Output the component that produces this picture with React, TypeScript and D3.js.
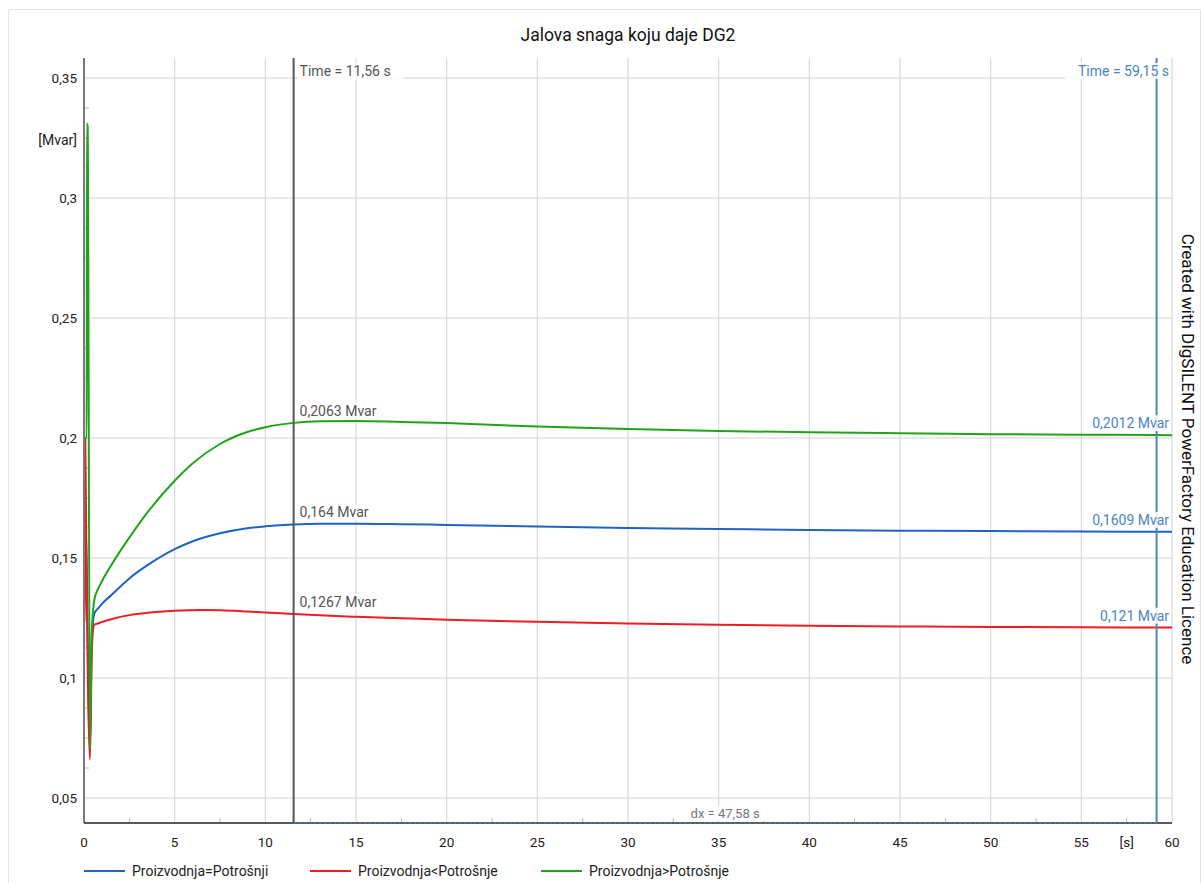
import React from "react";
import * as d3 from "d3";

// ---------- data ----------
const seriesNames = ["Proizvodnja=Potrošnji", "Proizvodnja<Potrošnje", "Proizvodnja>Potrošnje"];
const seriesColors = ["#1f63c4", "#ee1c24", "#22a41a"];

const blueT = [0, 0.12, 0.2, 0.33, 0.42, 0.5, 0.58, 0.8, 1, 1.5, 2.5, 3.5, 5, 6, 7.5, 9, 10, 11.56, 13, 15, 17.5, 20, 25, 30, 35, 40, 45, 50, 55, 59.15, 60];
const blueV = [0.1596, 0.1596, 0.12, 0.071, 0.112, 0.1235, 0.127, 0.1292, 0.131, 0.1345, 0.1415, 0.147, 0.1537, 0.157, 0.1603, 0.1624, 0.1632, 0.164, 0.1643, 0.1643, 0.1641, 0.1638, 0.1631, 0.1625, 0.1621, 0.1617, 0.1614, 0.1612, 0.161, 0.1609, 0.1609];

const redT = [0, 0.06, 0.07, 0.12, 0.33, 0.42, 0.5, 0.58, 0.8, 1, 1.5, 2.5, 3.5, 5, 6.5, 7.5, 9, 10, 11.56, 13, 15, 17.5, 20, 25, 30, 35, 40, 45, 50, 55, 59.15, 60];
const redV = [0.1233, 0.1233, 0.2, 0.16, 0.066, 0.108, 0.12, 0.1223, 0.1228, 0.1234, 0.1245, 0.1262, 0.1272, 0.128, 0.1283, 0.1282, 0.1277, 0.1273, 0.1267, 0.1261, 0.1255, 0.1249, 0.1243, 0.1234, 0.1227, 0.1222, 0.1218, 0.1215, 0.1213, 0.1211, 0.121, 0.121];

const greenT = [0, 0.15, 0.16, 0.2, 0.33, 0.42, 0.5, 0.58, 0.8, 1, 1.5, 2.5, 3.5, 5, 6, 7.5, 9, 10, 11.56, 13, 15, 17.5, 20, 25, 30, 35, 40, 45, 50, 55, 59.15, 60];
const greenV = [0.2, 0.2, 0.331, 0.33, 0.0705, 0.117, 0.128, 0.133, 0.1375, 0.1405, 0.147, 0.1585, 0.169, 0.1822, 0.1895, 0.1975, 0.2025, 0.2045, 0.2063, 0.207, 0.2071, 0.2067, 0.2062, 0.2048, 0.2037, 0.2029, 0.2024, 0.202, 0.2016, 0.2014, 0.2012, 0.2011];

const xTicks = [0, 5, 10, 15, 20, 25, 30, 35, 40, 45, 50, 55, 60];
const xMinorTicks = [2.5, 7.5, 12.5, 17.5, 22.5, 27.5, 32.5, 37.5, 42.5, 47.5, 52.5, 57.5];
const yTicks = [0.05, 0.1, 0.15, 0.2, 0.25, 0.3, 0.35];
const yMinorTicks = [0.0625, 0.075, 0.0875, 0.1125, 0.125, 0.1375, 0.1625, 0.175, 0.1875, 0.2125, 0.225, 0.2375, 0.2625, 0.275, 0.2875, 0.3125, 0.325, 0.3375];

const cursor1Time = 11.56;
const cursor2Time = 59.15;
const cursorDx = 47.58;
const cursor1Values = [0.164, 0.1267, 0.2063];
const cursor2Values = [0.1609, 0.121, 0.2012];

const title = "Jalova snaga koju daje DG2";
const yUnit = "[Mvar]";
const xUnit = "[s]";
const sideNote = "Created with DIgSILENT PowerFactory Education Licence";

// ---------- helpers ----------
const loc = d3.formatLocale({ decimal: ",", thousands: ".", grouping: [3], currency: ["", ""] });
const fmt = loc.format("~g");
const fmt2 = loc.format(".2f");
const FONT = "Roboto, 'Liberation Sans', Arial, sans-serif";

const LabelBox = ({ x, y, text, anchor, color, size = 14 }: any) => {
  const w = text.length * size * 0.52 + 4;
  const rx = anchor === "end" ? x - w + 2 : anchor === "middle" ? x - w / 2 : x - 2;
  return (
    <g>
      <rect x={rx} y={y - size + 1} width={w} height={size + 2} fill="#fff" fillOpacity={0.85} />
      <text x={x} y={y} textAnchor={anchor} fill={color} fontSize={size} fontFamily={FONT}>
        {text}
      </text>
    </g>
  );
};

export default function App() {
  const W = 1201;
  const H = 883;
  const x = d3.scaleLinear().domain([0, 60]).range([84, 1172]);
  const y = d3.scaleLinear().domain([0.05, 0.35]).range([798, 78]);
  const top = 58;
  const bottom = 823;
  const left = x(0);
  const right = x(60);

  const all = [
    { t: blueT, v: blueV },
    { t: redT, v: redV },
    { t: greenT, v: greenV },
  ];
  const line = d3
    .line<[number, number]>()
    .x((d) => x(d[0]))
    .y((d) => y(d[1]))
    .curve(d3.curveMonotoneX);

  const c1 = x(cursor1Time);
  const c2 = x(cursor2Time);
  const c1Color = "#555";
  const c2Color = "#4a86c1";

  return (
    <svg width={W} height={H} style={{ position: "absolute", left: 0, top: 0 }} fontFamily={FONT}>
      <rect x={0} y={0} width={W} height={H} fill="#fff" />
      <rect x={8.5} y={9.5} width={W - 9} height={H - 9} fill="none" stroke="#e6e6e6" />
      <defs>
        <clipPath id="plot">
          <rect x={left} y={top} width={right - left} height={bottom - top} />
        </clipPath>
      </defs>

      <text x={(left + right) / 2} y={41} textAnchor="middle" fontSize={17.5} fill="#111">
        {title}
      </text>

      {/* grid */}
      {xTicks.map((t) => (
        <line key={"gx" + t} x1={x(t)} x2={x(t)} y1={top} y2={bottom} stroke="#d2d2d2" strokeWidth={1} />
      ))}
      {yTicks.map((t) => (
        <line key={"gy" + t} x1={left} x2={right} y1={y(t)} y2={y(t)} stroke="#d2d2d2" strokeWidth={1} />
      ))}
      {yMinorTicks.map((t) => (
        <line key={"my" + t} x1={left} x2={left + 5} y1={y(t)} y2={y(t)} stroke="#bbb" strokeWidth={1} />
      ))}
      {xMinorTicks.map((t) => (
        <line key={"mx" + t} x1={x(t)} x2={x(t)} y1={bottom} y2={bottom - 5} stroke="#bbb" strokeWidth={1} />
      ))}

      {/* series */}
      <g clipPath="url(#plot)">
        {all.map((s, i) => (
          <path
            key={i}
            d={line(s.t.map((t, j) => [t, s.v[j]] as [number, number])) || ""}
            fill="none"
            stroke={seriesColors[i]}
            strokeWidth={2}
          />
        ))}
      </g>

      {/* axes */}
      <line x1={left} x2={left} y1={top} y2={bottom} stroke="#7a7a7a" strokeWidth={2} />
      <line x1={left} x2={right} y1={bottom} y2={bottom} stroke="#222" strokeWidth={1.5} />
      {yTicks.map((t) => (
        <text key={"ty" + t} x={77} y={y(t) + 5} textAnchor="end" fontSize={13.5} fill="#222">
          {fmt(t)}
        </text>
      ))}
      <text x={77} y={y(0.324) + 5} textAnchor="end" fontSize={14} fill="#222">
        {yUnit}
      </text>
      {xTicks.map((t) => (
        <text key={"tx" + t} x={x(t)} y={847} textAnchor="middle" fontSize={13.5} fill="#222">
          {fmt(t)}
        </text>
      ))}
      <text x={x(57.5)} y={847} textAnchor="middle" fontSize={13.5} fill="#222">
        {xUnit}
      </text>

      {/* cursors */}
      <line x1={c1} x2={c1} y1={top} y2={bottom} stroke={c1Color} strokeWidth={2} />
      <line x1={c2} x2={c2} y1={top} y2={bottom} stroke={c2Color} strokeWidth={2} />
      <line x1={c1} x2={c2} y1={bottom} y2={bottom} stroke={c2Color} strokeWidth={1.2} strokeDasharray="3,2" />
      <LabelBox x={(c1 + c2) / 2} y={818} text={`dx = ${fmt2(cursorDx)} s`} anchor="middle" color="#777" size={13} />
      <LabelBox x={c1 + 6} y={76} text={`Time = ${fmt2(cursor1Time)} s`} anchor="start" color={c1Color} />
      <LabelBox x={right - 3} y={76} text={`Time = ${fmt2(cursor2Time)} s`} anchor="end" color={c2Color} />
      {cursor1Values.map((v, i) => (
        <LabelBox key={"c1" + i} x={c1 + 6} y={y(v) - 7} text={`${fmt(v)} Mvar`} anchor="start" color={c1Color} />
      ))}
      {cursor2Values.map((v, i) => (
        <LabelBox key={"c2" + i} x={right - 3} y={y(v) - 7} text={`${fmt(v)} Mvar`} anchor="end" color={c2Color} />
      ))}

      {/* side note */}
      <text transform={`translate(1182, 449) rotate(90)`} textAnchor="middle" fontSize={17} fill="#111">
        {sideNote}
      </text>

      {/* legend */}
      {seriesNames.map((n, i) => {
        const lx = [84, 310, 541][i];
        return (
          <g key={n}>
            <line x1={lx} x2={lx + 41} y1={871} y2={871} stroke={seriesColors[i]} strokeWidth={2} />
            <text x={lx + 48} y={876} fontSize={14} fill="#222">
              {n}
            </text>
          </g>
        );
      })}
    </svg>
  );
}
